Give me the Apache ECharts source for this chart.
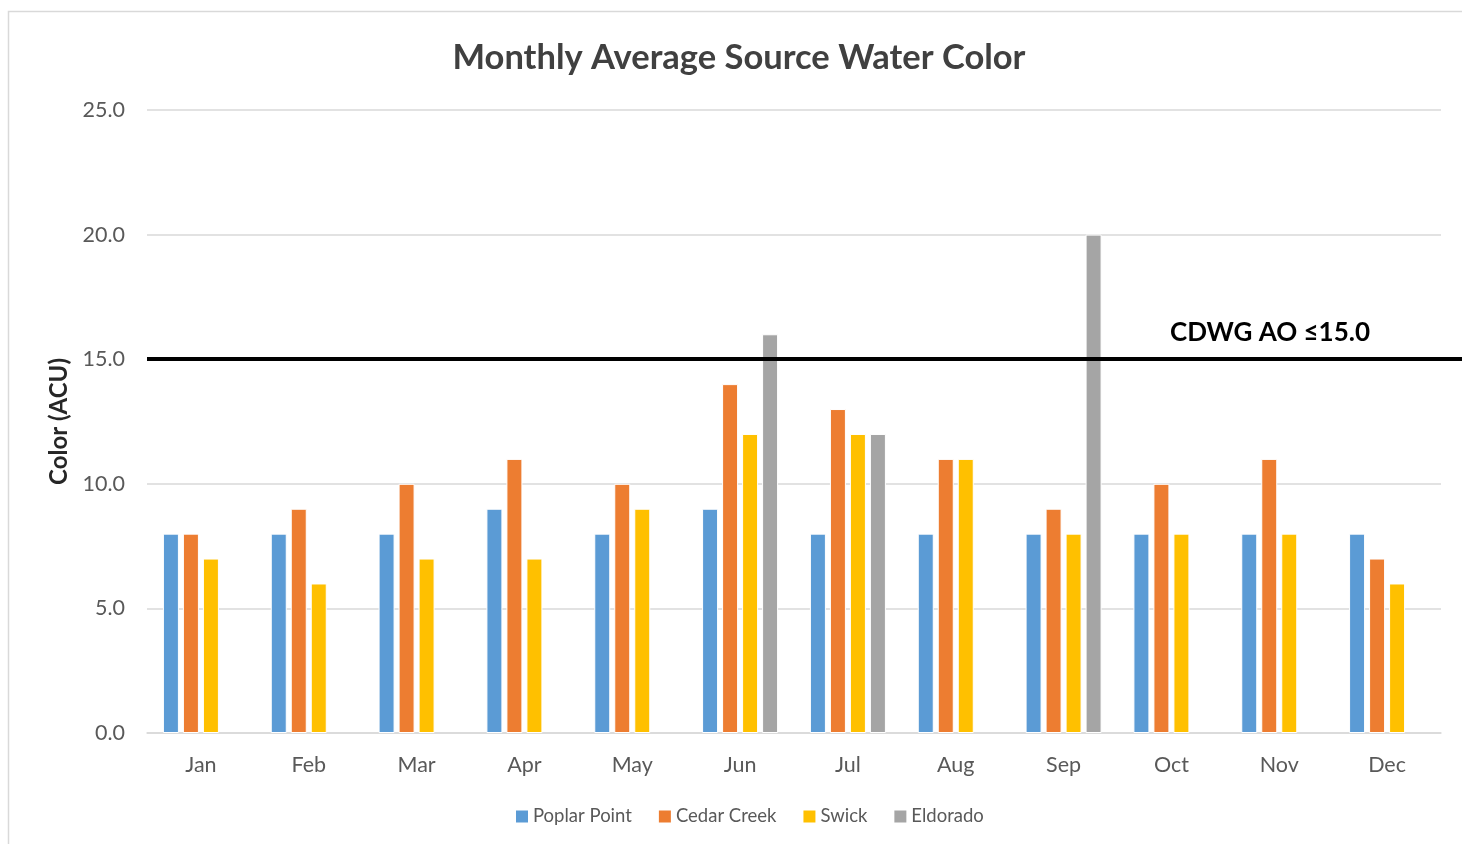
<!DOCTYPE html>
<html>
<head>
<meta charset="utf-8">
<script src="https://cdn.jsdelivr.net/npm/echarts@6/dist/echarts.min.js"></script>
<style>
  html, body { margin: 0; padding: 0; background: #fff; }
  #main { width: 1462px; height: 844px; }
</style>
</head>
<body>
<div id="main"></div>
<script>
var months = ["Jan", "Feb", "Mar", "Apr", "May", "Jun", "Jul", "Aug", "Sep", "Oct", "Nov", "Dec"];
var poplarPoint = [8, 8, 8, 9, 8, 9, 8, 8, 8, 8, 8, 8];
var cedarCreek = [8, 9, 10, 11, 10, 14, 13, 11, 9, 10, 11, 7];
var swick = [7, 6, 7, 7, 9, 12, 12, 11, 8, 8, 8, 6];
var eldorado = [null, null, null, null, null, 16, 12, null, 20, null, null, null];
var limitValue = 15;
var limitLabel = "CDWG AO ≤15.0";

var font = "Lato, 'Open Sans', sans-serif";
var myChart = echarts.init(document.getElementById("main"));

function barSeries(name, data, color) {
  return {
    name: name,
    type: "bar",
    data: data,
    barWidth: 16,
    barGap: "25%",
    itemStyle: { color: color, borderColor: "#fff", borderWidth: 1 },
  };
}

var option = {
  animation: false,
  backgroundColor: "#fff",
  textStyle: { fontFamily: font },
  graphic: [
    {
      // 外框
      type: "rect",
      shape: { x: 8.5, y: 11.5, width: 1600, height: 1000 },
      style: { fill: "none", stroke: "#d9d9d9", lineWidth: 1.5 },
      silent: true,
    },
  ],
  title: {
    text: "Monthly Average Source Water Color",
    left: 734,
    textAlign: "center",
    top: 35,
    textStyle: { fontFamily: font, fontSize: 34.5, fontWeight: "bold", color: "#404040" },
  },
  legend: {
    bottom: 13,
    left: 511,
    itemWidth: 12,
    itemHeight: 12,
    itemGap: 27,
    icon: "rect",
    itemStyle: { borderWidth: 0 },
    textStyle: { fontFamily: font, fontSize: 18.5, color: "#595959" },
    data: ["Poplar Point", "Cedar Creek", "Swick", "Eldorado"],
  },
  grid: [
    { left: 147, right: 21, top: 110, bottom: 111 },
    // 用于延伸到右边缘的限值线
    { left: 147, right: 0, top: 110, bottom: 111 },
  ],
  xAxis: [
    {
      type: "category",
      data: months,
      gridIndex: 0,
      axisTick: { show: false },
      axisLine: { lineStyle: { color: "#d9d9d9", width: 1.5 } },
      axisLabel: { fontFamily: font, fontSize: 21.5, color: "#595959", margin: 21 },
    },
    { type: "value", gridIndex: 1, show: false, min: 0, max: 1 },
  ],
  yAxis: [
    {
      type: "value",
      gridIndex: 0,
      min: 0,
      max: 25,
      interval: 5,
      name: "Color (ACU)",
      nameLocation: "middle",
      nameGap: 75,
      nameTextStyle: { fontFamily: font, fontSize: 24, fontWeight: "bold", color: "#262626" },
      axisLine: { show: false },
      axisTick: { show: false },
      splitLine: { lineStyle: { color: "#d9d9d9", width: 1.5 } },
      axisLabel: {
        fontFamily: font,
        fontSize: 21.5,
        color: "#595959",
        margin: 22,
        formatter: function (v) { return v.toFixed(1); },
      },
    },
    { type: "value", gridIndex: 1, show: false, min: 0, max: 25 },
  ],
  series: [
    barSeries("Poplar Point", poplarPoint, "#5b9bd5"),
    barSeries("Cedar Creek", cedarCreek, "#ed7d31"),
    barSeries("Swick", swick, "#ffc000"),
    barSeries("Eldorado", eldorado, "#a5a5a5"),
    {
      name: "limit",
      type: "line",
      xAxisIndex: 1,
      yAxisIndex: 1,
      data: [],
      markLine: {
        silent: true,
        symbol: "none",
        lineStyle: { color: "#000", width: 4, type: "solid" },
        label: {
          position: "insideEndTop",
          distance: [92, 14],
          formatter: limitLabel,
          fontFamily: font,
          fontSize: 26,
          fontWeight: "bold",
          color: "#000",
        },
        data: [{ yAxis: limitValue }],
      },
    },
  ],
};
myChart.setOption(option);
</script>
</body>
</html>
